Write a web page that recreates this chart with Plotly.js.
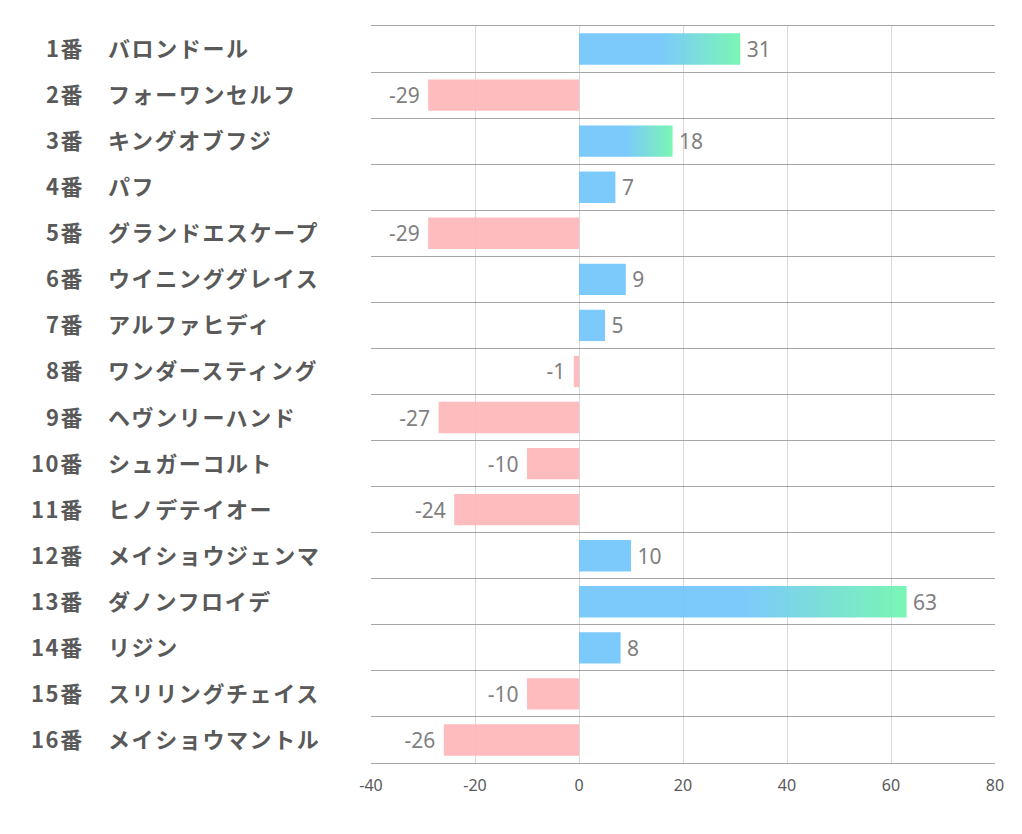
<!DOCTYPE html>
<html>
<head>
<meta charset="utf-8">
<script src="https://cdn.plot.ly/plotly-3.0.1.min.js"></script>
<style>
  html, body { margin: 0; padding: 0; background: #ffffff; }
  #chart { width: 1022px; height: 834px; }
  .annotation-text { letter-spacing: 1.6px; }
</style>
</head>
<body>
<div id="chart"></div>
<script>
// ---- data ----
const horseNumbers = ["1番","2番","3番","4番","5番","6番","7番","8番","9番","10番","11番","12番","13番","14番","15番","16番"];
const horseNames = ["バロンドール","フォーワンセルフ","キングオブフジ","パフ","グランドエスケープ","ウイニンググレイス","アルファヒディ","ワンダースティング","ヘヴンリーハンド","シュガーコルト","ヒノデテイオー","メイショウジェンマ","ダノンフロイデ","リジン","スリリングチェイス","メイショウマントル"];
const scores = [31, -29, 18, 7, -29, 9, 5, -1, -27, -10, -24, 10, 63, 8, -10, -26];
const xTicks = [-40, -20, 0, 20, 40, 60, 80];

// ---- style ----
const BLUE = "rgb(110,196,252)";
const GREEN = "rgb(108,245,172)";
const PINK = "rgb(255,181,183)";
const BAR_OPACITY = 0.9;
const BAR_WIDTH = 0.68;
const GRADIENT_MIN = 15;
const JP_FONT = "'Noto Sans CJK JP', 'Noto Sans', sans-serif";
const NUM_FONT = "'Noto Sans', 'DejaVu Sans', sans-serif";

const idx = scores.map((_, i) => i);
const useGradient = scores.map(v => v >= GRADIENT_MIN);

const traces = [];

// main bar trace (gradient bars are transparent here; their fill is drawn below)
traces.push({
  type: "bar",
  orientation: "h",
  x: scores,
  y: idx,
  width: BAR_WIDTH,
  marker: {
    color: scores.map((v, i) => useGradient[i] ? "rgba(0,0,0,0)" : (v >= 0 ? BLUE : PINK)),
    opacity: BAR_OPACITY,
    line: { width: 0 }
  },
  text: scores.map(v => v >= 0 ? "\u2009" + v : v + " "),
  textposition: "outside",
  cliponaxis: false,
  textfont: { family: NUM_FONT, size: 21, color: "#7f7f7f" },
  hoverinfo: "skip",
  showlegend: false
});

// gradient-filled bars
scores.forEach((v, i) => {
  if (!useGradient[i]) return;
  const h = BAR_WIDTH / 2;
  traces.push({
    type: "scatter",
    mode: "none",
    x: [0, v, v, 0, 0],
    y: [i - h, i - h, i + h, i + h, i - h],
    fill: "toself",
    fillgradient: {
      type: "horizontal",
      colorscale: [[0, BLUE], [0.5, BLUE], [1, GREEN]]
    },
    opacity: BAR_OPACITY,
    hoverinfo: "skip",
    showlegend: false
  });
});

// row labels
const annotations = [];
idx.forEach(i => {
  annotations.push({
    xref: "paper", yref: "y", x: 0, y: i,
    xanchor: "right", yanchor: "middle", xshift: -285, yshift: 2,
    text: horseNumbers[i], showarrow: false,
    font: { family: JP_FONT, size: 22, color: "#595959", weight: "bold" }
  });
  annotations.push({
    xref: "paper", yref: "y", x: 0, y: i,
    xanchor: "left", yanchor: "middle", xshift: -265, yshift: 2,
    text: horseNames[i], showarrow: false,
    font: { family: JP_FONT, size: 22, color: "#595959", weight: "bold" }
  });
});

const rowEdges = [];
for (let k = 0; k <= scores.length; k++) rowEdges.push(k - 0.5);

const layout = {
  width: 1022,
  height: 834,
  margin: { l: 371, r: 27, t: 26, b: 71, pad: 0 },
  paper_bgcolor: "#ffffff",
  plot_bgcolor: "#ffffff",
  showlegend: false,
  xaxis: {
    range: [-40, 80],
    tickvals: xTicks,
    ticktext: xTicks.map(String),
    showgrid: true,
    gridcolor: "#d9d9d9",
    gridwidth: 1,
    zeroline: false,
    showline: true,
    mirror: true,
    linecolor: "#a6a6a6",
    linewidth: 1,
    ticks: "",
    ticklabelstandoff: 8,
    tickfont: { family: NUM_FONT, size: 16, color: "#595959" },
    fixedrange: true
  },
  yaxis: {
    type: "linear",
    range: [scores.length - 0.5, -0.5],
    tickvals: rowEdges,
    showticklabels: false,
    showgrid: true,
    gridcolor: "#a6a6a6",
    gridwidth: 1,
    zeroline: false,
    showline: false,
    ticks: "",
    fixedrange: true
  },
  annotations: annotations
};

Plotly.newPlot("chart", traces, layout, { displayModeBar: false, staticPlot: true });
</script>
</body>
</html>
